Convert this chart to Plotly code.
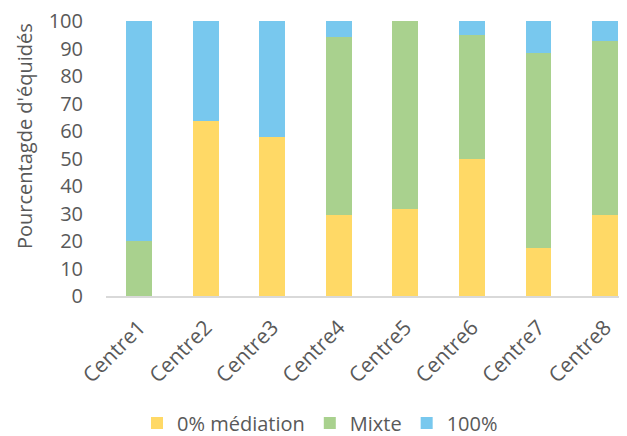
import plotly.graph_objects as go

categories = ["Centre1", "Centre2", "Centre3", "Centre4", "Centre5", "Centre6", "Centre7", "Centre8"]
mediation0 = [0, 63.6, 57.9, 29.4, 31.8, 50, 17.6, 29.6]
mixte = [20, 0, 0, 64.7, 68.2, 45, 70.6, 63.0]
full100 = [80, 36.4, 42.1, 5.9, 0, 5, 11.8, 7.4]
series_names = ["0% médiation", "Mixte", "100%"]
colors = ["#FFD966", "#A9D18E", "#78C8EE"]
y_title = "Pourcentagde d'équidés"

fig = go.Figure()
for name, vals, col in zip(series_names, [mediation0, mixte, full100], colors):
    fig.add_trace(go.Bar(x=categories, y=vals, name=name, marker=dict(color=col, line=dict(width=0))))

FONT = "Open Sans, Noto Sans, sans-serif"
GREY = "#595959"
OFF = 8  # page body margin
W, H = 627 - OFF, 436 - OFF
L, T, B, R = 106 - OFF, 21 - OFF, H - (296 - OFF), 0
fig.update_layout(
    barmode="stack",
    bargap=0.61,
    width=W, height=H,
    margin=dict(l=L, r=R, t=T, b=B, autoexpand=False),
    plot_bgcolor="white", paper_bgcolor="white",
    font=dict(family=FONT, size=20, color=GREY),
    showlegend=True,
    legend=dict(orientation="h", x=(320 - OFF) / W, xref="container", xanchor="center",
                y=(H - (423 - OFF)) / H, yref="container", yanchor="middle",
                font=dict(family=FONT, size=20, color=GREY), itemwidth=30, traceorder="normal"),
    xaxis=dict(tickangle=-45, showline=True, linecolor="#D9D9D9", linewidth=2, automargin=False,
               range=[-0.5, 7.33], tickfont=dict(family=FONT, size=21, color=GREY), ticks="",
               ticklabelstandoff=9, ticklabeloverflow="allow"),
    yaxis=dict(range=[0, 100], dtick=10, showgrid=False, zeroline=False, showline=False, automargin=False,
               tickfont=dict(family=FONT, size=20, color=GREY), ticks="", ticklabelstandoff=22,
               ticklabeloverflow="allow"),
)
fig.add_annotation(text=y_title, textangle=-90, xref="paper", yref="paper",
                   x=-(106 - 24) / (W - L - R), y=(296 - 136) / (296 - 21),
                   xanchor="center", yanchor="middle", showarrow=False,
                   font=dict(family=FONT, size=20, color=GREY))
fig.write_html("out.html")
